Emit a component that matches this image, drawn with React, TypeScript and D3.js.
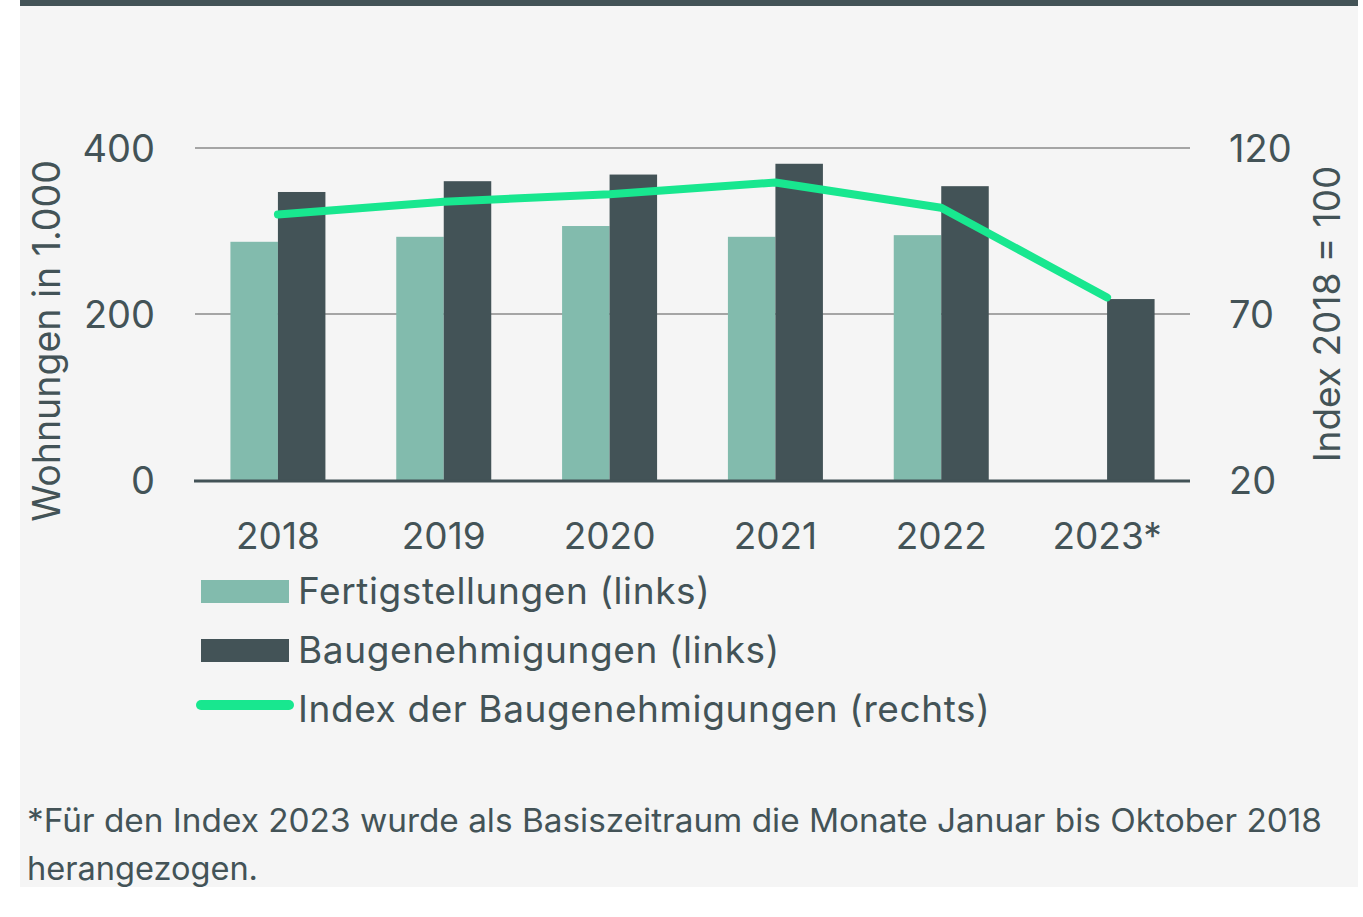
import React from 'react';
import * as d3 from 'd3';

// Wohnungsbau in Deutschland: Fertigstellungen, Baugenehmigungen und Index
const years = ['2018', '2019', '2020', '2021', '2022', '2023*'];
const fertigstellungen = [287, 293, 306, 293, 295, null];
const baugenehmigungen = [347, 360, 368, 381, 354, 218];
const indexBaugenehmigungen = [100, 103.8, 106.1, 109.6, 102, 75];
const leftTicks = [0, 200, 400];
const rightTicks = [20, 70, 120];

const legendItems = [
  { label: 'Fertigstellungen (links)', kind: 'bar', color: '#82bbad' },
  { label: 'Baugenehmigungen (links)', kind: 'bar', color: '#435357' },
  { label: 'Index der Baugenehmigungen (rechts)', kind: 'line', color: '#18e78f' },
];

const footnoteLines = [
  '*Für den Index 2023 wurde als Basiszeitraum die Monate Januar bis Oktober 2018',
  'herangezogen.',
];

const W = 1363;
const H = 917;
const textColor = '#435357';
const font = 'Inter, "Noto Sans", sans-serif';

const App = () => {
  const plot = { left: 195, right: 1190, top: 148, bottom: 480 };

  const x = d3.scaleBand<string>().domain(years).range([plot.left, plot.right]).padding(0);
  const barWidth = 47.5;
  const yLeft = d3.scaleLinear().domain([0, 400]).range([plot.bottom, plot.top]);
  const yRight = d3.scaleLinear().domain([20, 120]).range([plot.bottom, plot.top]);

  const center = (yr: string) => (x(yr) ?? 0) + x.bandwidth() / 2;

  const line = d3
    .line<number>()
    .x((_, i) => center(years[i]))
    .y((d) => yRight(d));

  return (
    <svg
      width={W}
      height={H}
      style={{ position: 'absolute', left: 0, top: 0, background: '#ffffff' }}
      fontFamily={font}
    >
      <rect x={20} y={0} width={1338} height={887} fill="#f5f5f5" />
      <rect x={20} y={0} width={1338} height={6} fill={textColor} />

      {/* gridlines */}
      {leftTicks
        .filter((t) => t > 0)
        .map((t) => (
          <line
            key={t}
            x1={plot.left}
            x2={plot.right}
            y1={yLeft(t)}
            y2={yLeft(t)}
            stroke="#8a8a8a"
            strokeWidth={1.5}
          />
        ))}

      {/* bars */}
      {years.map((yr, i) => {
        const c = center(yr);
        const f = fertigstellungen[i];
        const b = baugenehmigungen[i];
        return (
          <g key={yr}>
            {f != null && (
              <rect
                x={c - barWidth}
                y={yLeft(f)}
                width={barWidth}
                height={yLeft(0) - yLeft(f)}
                fill="#82bbad"
              />
            )}
            <rect x={c} y={yLeft(b)} width={barWidth} height={yLeft(0) - yLeft(b)} fill="#435357" />
          </g>
        );
      })}

      {/* baseline */}
      <line
        x1={plot.left - 1}
        x2={plot.right}
        y1={plot.bottom + 1}
        y2={plot.bottom + 1}
        stroke={textColor}
        strokeWidth={3}
      />

      {/* index line */}
      <path
        d={line(indexBaugenehmigungen) ?? ''}
        fill="none"
        stroke="#18e78f"
        strokeWidth={8}
        strokeLinecap="round"
        strokeLinejoin="round"
      />

      {/* left axis labels */}
      {leftTicks.map((t) => (
        <text key={t} x={155} y={yLeft(t) + 14} textAnchor="end" fontSize={38} fill={textColor}>
          {t}
        </text>
      ))}

      {/* right axis labels */}
      {rightTicks.map((t) => (
        <text key={t} x={1229} y={yRight(t) + 14} textAnchor="start" fontSize={38} fill={textColor}>
          {t}
        </text>
      ))}

      {/* year labels */}
      {years.map((yr) => (
        <text key={yr} x={center(yr)} y={549} textAnchor="middle" fontSize={37} fill={textColor}>
          {yr}
        </text>
      ))}

      {/* axis titles */}
      <text
        transform="translate(60,341) rotate(-90)"
        textAnchor="middle"
        fontSize={37.5}
        fill={textColor}
      >
        Wohnungen in 1.000
      </text>
      <text
        transform="translate(1340,314) rotate(-90)"
        textAnchor="middle"
        fontSize={37}
        fill={textColor}
      >
        Index 2018 = 100
      </text>

      {/* legend */}
      {legendItems.map((item, i) => {
        const base = 604 + i * 59;
        return (
          <g key={item.label}>
            {item.kind === 'bar' ? (
              <rect x={201} y={base - 24} width={88} height={23} fill={item.color} />
            ) : (
              <line
                x1={201}
                x2={289}
                y1={base - 17}
                y2={base - 17}
                stroke={item.color}
                strokeWidth={10}
                strokeLinecap="round"
              />
            )}
            <text x={298} y={base} fontSize={37} letterSpacing={0.6} fill={textColor}>
              {item.label}
            </text>
          </g>
        );
      })}

      {/* footnote */}
      <text fontSize={32} fill={textColor}>
        <tspan x={27} y={832} textLength={1295} lengthAdjust="spacingAndGlyphs">
          {footnoteLines[0]}
        </tspan>
        <tspan x={27} y={880} textLength={231} lengthAdjust="spacingAndGlyphs">
          {footnoteLines[1]}
        </tspan>
      </text>
    </svg>
  );
};

export default App;
